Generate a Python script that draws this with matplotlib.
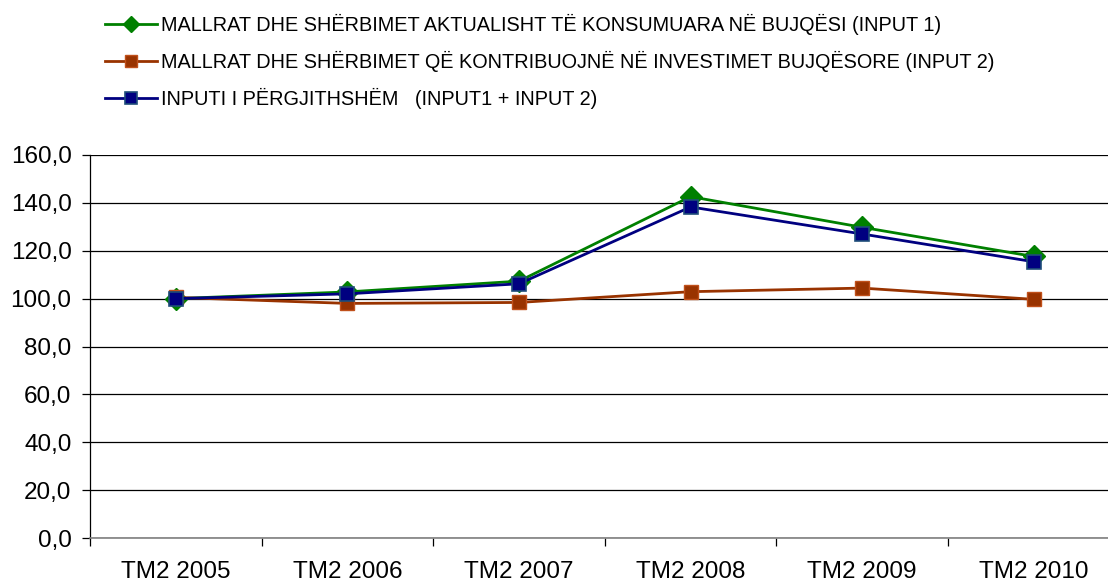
import numpy as np
import matplotlib
matplotlib.use("Agg")
import matplotlib.pyplot as plt
from matplotlib.ticker import FixedLocator

plt.rcParams["font.family"] = ["Liberation Sans", "DejaVu Sans"]

categories = ["TM2 2005", "TM2 2006", "TM2 2007", "TM2 2008", "TM2 2009", "TM2 2010"]
input1 = [100.0, 102.8, 107.3, 142.6, 129.8, 117.6]
input2 = [100.5, 98.0, 98.4, 102.9, 104.4, 99.7]
total = [100.0, 102.0, 106.2, 138.3, 127.0, 115.4]
labels = [
    "MALLRAT DHE SHËRBIMET AKTUALISHT TË KONSUMUARA NË BUJQËSI (INPUT 1)",
    "MALLRAT DHE SHËRBIMET QË KONTRIBUOJNË NË INVESTIMET BUJQËSORE (INPUT 2)",
    "INPUTI I PËRGJITHSHËM   (INPUT1 + INPUT 2)",
]
y_ticks = [0, 20, 40, 60, 80, 100, 120, 140, 160]
y_tick_labels = ["0,0", "20,0", "40,0", "60,0", "80,0", "100,0", "120,0", "140,0", "160,0"]

W, H = 1108, 583
fig = plt.figure(figsize=(W / 100, H / 100), dpi=100)
ax = fig.add_axes([90 / W, 1 - 538 / H, 1 - 90 / W, (538 - 155) / H])

x = np.arange(len(categories))
ax.plot(x, input1, color="#008000", lw=2, marker="D", ms=11,
        mfc="#008000", mec="#008000", label=labels[0], zorder=3)
ax.plot(x, input2, color="#993300", lw=2, marker="s", ms=9.5,
        mfc="#993300", mec="#c0501a", mew=1, label=labels[1], zorder=4)
ax.plot(x, total, color="#000080", lw=2, marker="s", ms=9.5,
        mfc="#000080", mec="#1f4e79", mew=1.2, label=labels[2], zorder=5)

ax.set_ylim(0, 160)
ax.set_xlim(-0.5, -0.5 + 1018 / 171.6)
ax.set_yticks(y_ticks)
ax.set_yticklabels(y_tick_labels, fontsize=17.5)
ax.grid(axis="y", color="#000000", lw=0.9)
ax.set_axisbelow(True)

ax.xaxis.set_major_locator(FixedLocator(np.arange(len(categories) + 1) - 0.5))
ax.xaxis.set_major_formatter(plt.NullFormatter())
ax.xaxis.set_minor_locator(FixedLocator(x))
ax.set_xticklabels(categories, minor=True, fontsize=17.5)
ax.tick_params(axis="x", which="major", direction="out", length=6, width=0.9)
ax.tick_params(axis="x", which="minor", length=0, pad=16.5)
ax.tick_params(axis="y", direction="out", length=5.8, width=0.9, pad=7.5)

for s in ["top", "right"]:
    ax.spines[s].set_visible(False)
ax.spines["left"].set_linewidth(0.9)
ax.spines["bottom"].set_color("#808080")
ax.spines["bottom"].set_linewidth(1.2)

leg = fig.legend(loc="upper left", bbox_to_anchor=(105 / W, 1 - 14 / H), frameon=False,
                 fontsize=14.35, handlelength=2.62, handletextpad=0.2, labelspacing=0.79,
                 borderpad=0, borderaxespad=0)
for h, m in zip(leg.legend_handles, [8.5, 8.5, 8.5]):
    h.set_markersize(m)

fig.savefig("out.png", dpi=100)
